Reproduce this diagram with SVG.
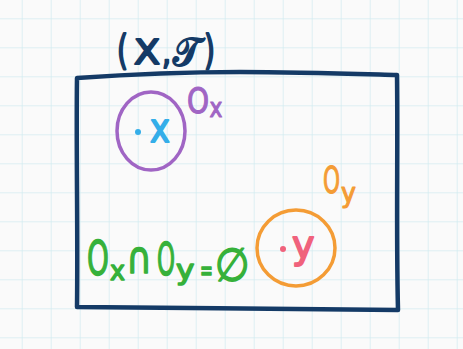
<svg xmlns="http://www.w3.org/2000/svg" width="463" height="349" viewBox="0 0 463 349">
  <defs>
    <pattern id="grid" x="21.7" y="18.3" width="29" height="29" patternUnits="userSpaceOnUse">
      <path d="M0,0 H29 M0,0 V29" fill="none" stroke="#d3ecf1" stroke-width="1.5"/>
    </pattern>
  </defs>
  <style>
    text { font-family: "DejaVu Sans", "Liberation Sans", sans-serif; stroke-linejoin: round; stroke-linecap: round; }
    .navy { fill: #143a66; stroke: #143a66; stroke-width: 2; }
    .purple { fill: #a065c4; stroke: #a065c4; stroke-width: 1.2; }
    .orange { fill: #f49c35; stroke: #f49c35; stroke-width: 1.2; }
    .green { fill: #36b13a; stroke: #36b13a; stroke-width: 1.5; }
    .blue { fill: #34aee9; stroke: #34aee9; stroke-width: 1.8; }
    .pink { fill: #f0627c; stroke: #f0627c; stroke-width: 1.8; }
    .line { fill: none; stroke-linecap: round; stroke-linejoin: round; }
  </style>
  <rect x="0" y="0" width="463" height="349" fill="#fafafa"/>
  <rect x="0" y="0" width="463" height="349" fill="url(#grid)"/>

  <g id="connectors"/>

  <g id="space">
    <path class="line" d="M77,78 C120,75 180,72 240,72 C300,72 360,74 397,75 C398,150 396,230 398,310 C300,309 180,308 77,307 C78,230 76,150 77,78 Z" stroke="#143a66" stroke-width="4.5"/>
    <text class="navy" x="117" y="64" font-size="40" textLength="11" lengthAdjust="spacingAndGlyphs">(</text>
    <text class="navy" x="134" y="64" font-size="34" textLength="26" lengthAdjust="spacingAndGlyphs">X</text>
    <text class="navy" x="162" y="64" font-size="34" textLength="9" lengthAdjust="spacingAndGlyphs">,</text>
    <text class="navy" x="173" y="66" font-size="40" textLength="28" lengthAdjust="spacingAndGlyphs">𝒯</text>
    <text class="navy" x="204" y="64" font-size="40" textLength="11" lengthAdjust="spacingAndGlyphs">)</text>
  </g>

  <g id="Ox">
    <ellipse class="line" cx="151" cy="131" rx="34" ry="39" stroke="#a065c4" stroke-width="3.5"/>
    <circle cx="138" cy="132" r="3" fill="#34aee9"/>
    <text class="blue" font-size="40" transform="translate(150,142) scale(0.84,1)">x</text>
    <text class="purple" font-size="36" transform="translate(187,113) scale(0.78,1)">O</text>
    <text class="purple" font-size="26" transform="translate(209.5,117) scale(0.84,1)">x</text>
  </g>

  <g id="Oy">
    <ellipse class="line" cx="296" cy="248" rx="39" ry="38" stroke="#f49c35" stroke-width="3.5"/>
    <circle cx="283" cy="249" r="3" fill="#f0627c"/>
    <text class="pink" x="292" y="258" font-size="38">y</text>
    <text class="orange" font-size="38" transform="translate(323,193) scale(0.57,1)">O</text>
    <text class="orange" font-size="26" transform="translate(341,202) scale(0.97,1)">y</text>
  </g>

  <g id="formula">
    <text class="green" font-size="48" transform="translate(87,275) scale(0.58,1)">O</text>
    <text class="green" font-size="27" transform="translate(110,280) scale(0.94,1)">x</text>
    <text class="green" font-size="44" transform="translate(126,273) scale(0.8,1)">∩</text>
    <text class="green" font-size="44" transform="translate(157,275) scale(0.52,1)">O</text>
    <text class="green" font-size="27" transform="translate(176,279) scale(1.15,1)">y</text>
    <text class="green" font-size="28" transform="translate(200,280) scale(0.55,1)">=</text>
    <text class="green" font-size="46" transform="translate(215,281) scale(0.86,1)">∅</text>
  </g>
</svg>
